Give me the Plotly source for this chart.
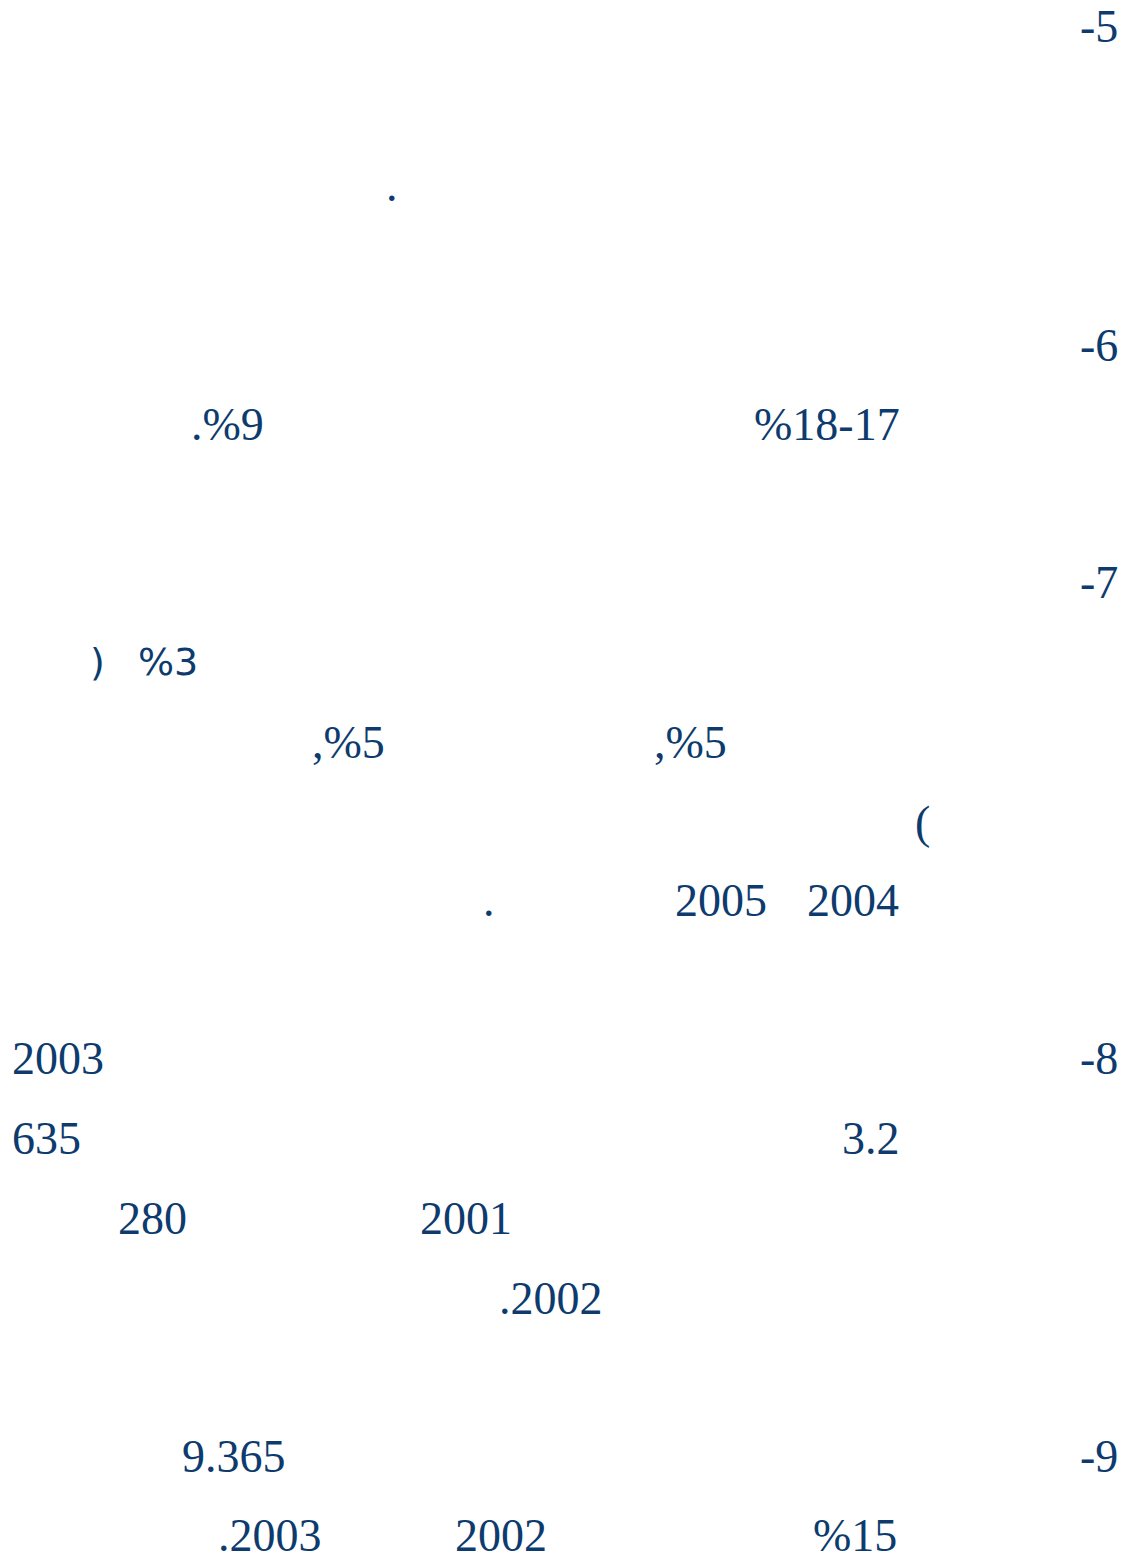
import plotly.graph_objects as go

# Text fragments visible on the page (numbers / punctuation only)
section_numbers = ["-5", "-6", "-7", "-8", "-9"]
line5 = ["."]
line6 = [".%9", "%18-17"]
line7a = [")", "%3"]
line7b = [",%5", ",%5"]
line7c = ["("]
line7d = [".", "2005", "2004"]
line8a = ["2003"]
line8b = ["635", "3.2"]
line8c = ["280", "2001"]
line8d = [".2002"]
line9a = ["9.365"]
line9b = [".2003", "2002", "%15"]

COLOR = "#0d3b6e"
FONT = "Liberation Serif"
SIZE = 46

# placement in page pixels: (text, x, y, xanchor)
placements = []
for t, y in zip(section_numbers, [26, 345, 582, 1058, 1456]):
    placements.append((t, 1119, y, "right"))
placements += [
    (line5[0], 385, 185, "left"),
    (line6[0], 190, 424, "left"),
    (line6[1], 753, 424, "left"),
    (line7a[0], 89, 662, "left"),
    (line7a[1], 137, 662, "left"),
    (line7b[0], 311, 742, "left"),
    (line7b[1], 653, 742, "left"),
    (line7c[0], 914, 822, "left"),
    (line7d[0], 482, 900, "left"),
    (line7d[1], 674, 900, "left"),
    (line7d[2], 806, 900, "left"),
    (line8a[0], 11, 1058, "left"),
    (line8b[0], 11, 1138, "left"),
    (line8b[1], 841, 1138, "left"),
    (line8c[0], 117, 1218, "left"),
    (line8c[1], 419, 1218, "left"),
    (line8d[0], 498, 1298, "left"),
    (line9a[0], 181, 1456, "left"),
    (line9b[0], 217, 1535, "left"),
    (line9b[1], 454, 1535, "left"),
    (line9b[2], 812, 1535, "left"),
]

# the page body has an 8px margin; map axis ranges to page pixels
OFF = 8
W, H = 1128, 1562

fig = go.Figure()
fig.add_trace(go.Scatter(x=[OFF, W - OFF], y=[OFF, H - OFF], mode="markers",
                         marker=dict(opacity=0), hoverinfo="skip", showlegend=False))

for t, x, y, xa in placements:
    fam, size = FONT, SIZE
    if t in (")", "%3"):
        fam, size = "DejaVu Sans", 38
    fig.add_annotation(x=x, y=y, xref="x", yref="y", text=t, showarrow=False,
                       xanchor=xa, yanchor="middle", borderpad=0,
                       font=dict(family=fam, size=size, color=COLOR))

fig.update_layout(
    width=W - 2 * OFF, height=H - 2 * OFF,
    margin=dict(l=0, r=0, t=0, b=0),
    paper_bgcolor="white", plot_bgcolor="white",
    xaxis=dict(range=[OFF, W - OFF], visible=False, fixedrange=True),
    yaxis=dict(range=[H - OFF, OFF], visible=False, fixedrange=True),
)
fig.write_html("out.html", config={"displayModeBar": False})
